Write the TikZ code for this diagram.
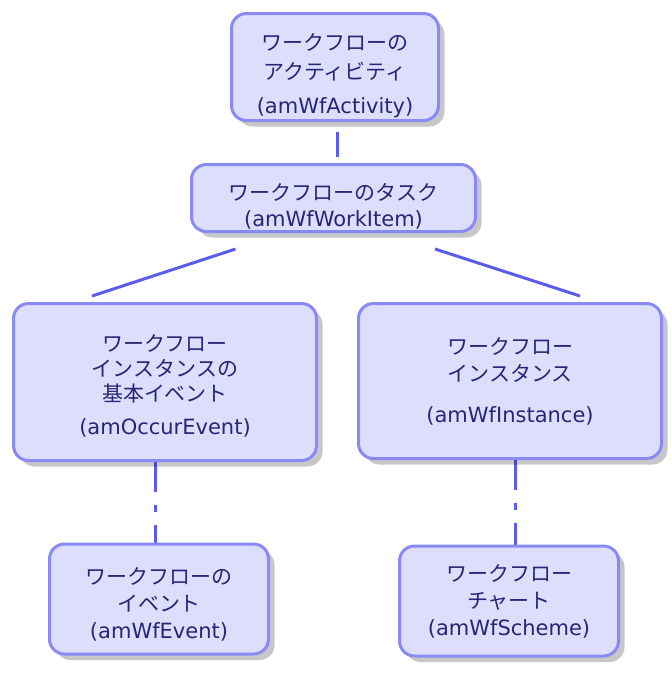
\documentclass[tikz,border=0pt]{standalone}
\usepackage{fontspec}
\setmainfont{DejaVu Sans}
\newfontfamily\jpfont{Noto Sans CJK JP}
\usepackage{tikz}
\usetikzlibrary{positioning,shadows,backgrounds}
\definecolor{boxfill}{RGB}{221,221,252}
\definecolor{boxedge}{RGB}{138,138,244}
\definecolor{linkblue}{RGB}{92,92,236}
\definecolor{textnavy}{RGB}{38,38,118}
% taller first line, pushes the text block down
\newcommand\dropby[1]{\rule{0pt}{#1}}

\begin{document}
\begin{tikzpicture}[
    x=1pt, y=1pt,
    font=\fontsize{21}{27}\selectfont,
    table/.style={draw=boxedge, line width=3pt, fill=boxfill, rounded corners=15pt,
        align=center, inner sep=0pt, text=textnavy,
        drop shadow={shadow xshift=6pt, shadow yshift=-6pt, fill=black, opacity=.22}},
    link/.style={draw=linkblue, line width=3pt},
    weak/.style={link, dash pattern=on 30pt off 13pt on 7pt off 13pt}
]
\useasboundingbox (0,0) rectangle (672,-673);
% tables
\node[table, minimum width=207pt, minimum height=107pt] (activity) at (335,-67)
    {\dropby{35pt}{\jpfont ワークフローの}\\[2pt]{\jpfont アクティビティ}\\[7pt](amWfActivity)};
\node[table, minimum width=284pt, minimum height=67pt] (task) at (333.5,-198)
    {\dropby{34pt}{\jpfont ワークフローのタスク}\\[-1pt](amWfWorkItem)};
\node[table, minimum width=303pt, minimum height=157pt] (occur) at (165,-382)
    {\dropby{25pt}{\jpfont ワークフロー}\\[-2pt]{\jpfont インスタンスの}\\[-2pt]{\jpfont 基本イベント}\\[6pt](amOccurEvent)};
\node[table, minimum width=303pt, minimum height=155pt] (instance) at (510,-381)
    {{\jpfont ワークフロー}\\{\jpfont インスタンス}\\[14pt](amWfInstance)};
\node[table, minimum width=219pt, minimum height=110pt] (event) at (159,-599)
    {\dropby{28pt}{\jpfont ワークフローの}\\{\jpfont イベント}\\(amWfEvent)};
\node[table, minimum width=219pt, minimum height=110pt] (scheme) at (509,-601)
    {{\jpfont ワークフロー}\\{\jpfont チャート}\\(amWfScheme)};
% links
\coordinate (task-l) at ([xshift=-98pt, yshift=-16pt]task.south);
\coordinate (task-r) at ([xshift=101.5pt, yshift=-16pt]task.south);
\coordinate (occur-t) at ([xshift=-73pt, yshift=6pt]occur.north);
\coordinate (instance-t) at ([xshift=70pt, yshift=6pt]instance.north);
\begin{scope}[on background layer]
\draw[link, shorten <=10pt, shorten >=6pt] ([xshift=2pt]activity.south) -- ([xshift=2pt]activity.south |- task.north);
\draw[link] (task-l) -- (occur-t);
\draw[link] (task-r) -- (instance-t);
\draw[weak] ([xshift=-10pt]occur.south) -- ([xshift=-10pt]occur.south |- event.north);
\draw[weak] ([xshift=5pt]instance.south) -- ([xshift=5pt]instance.south |- scheme.north);
\end{scope}
\end{tikzpicture}
\end{document}
